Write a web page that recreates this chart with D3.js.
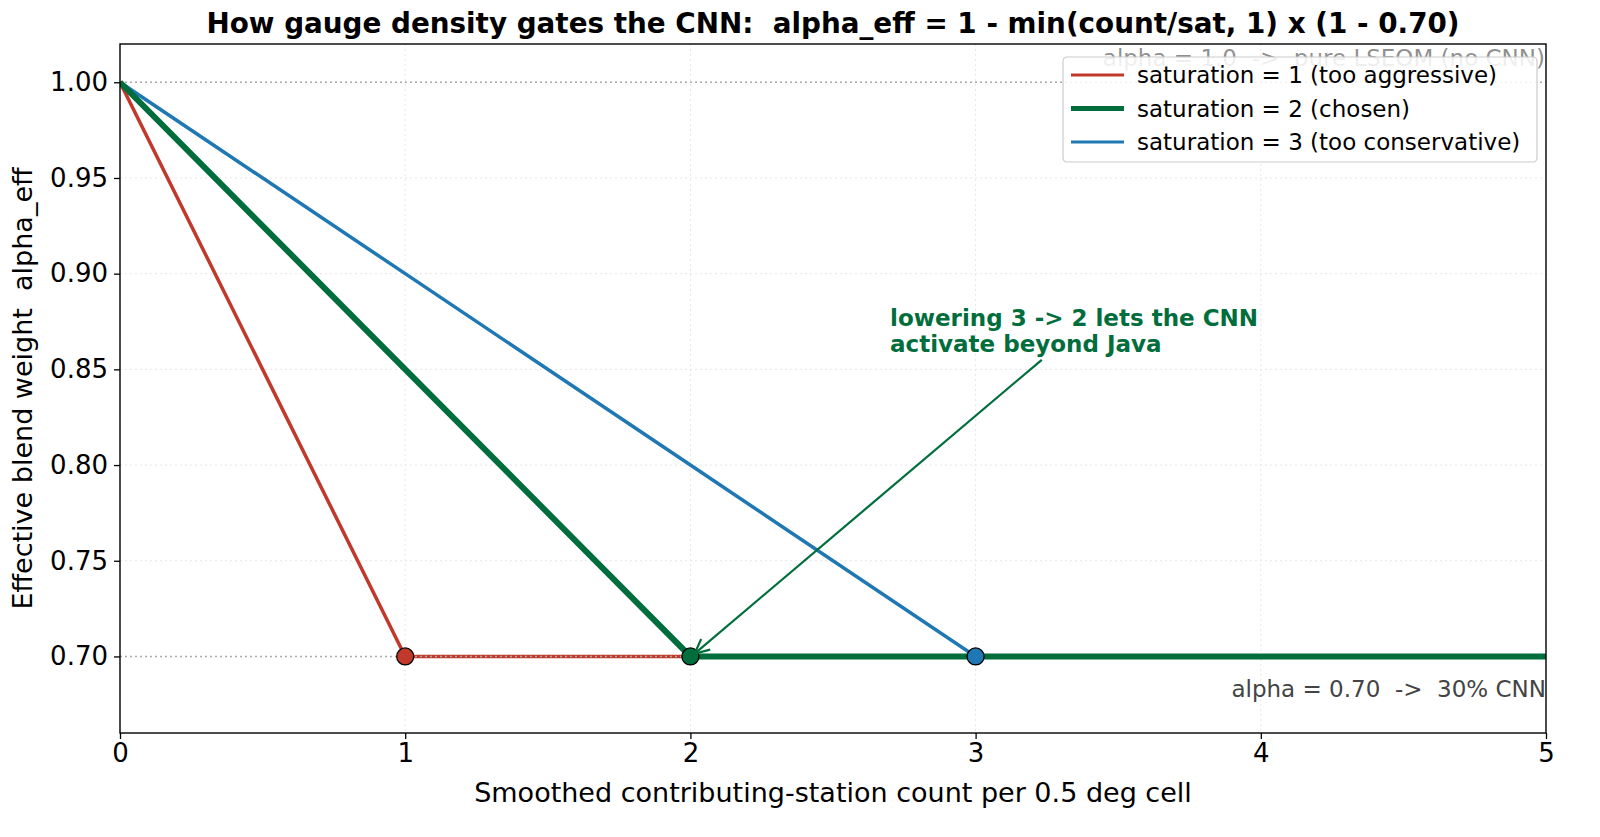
<!DOCTYPE html>
<html>
<head>
<meta charset="utf-8">
<script src="https://cdn.jsdelivr.net/npm/d3@7"></script>
<style>
  body { margin:0; background:#fff; }
  svg { font-family: "DejaVu Sans", sans-serif; }
  svg text { white-space: pre; }
</style>
</head>
<body>
<div id="chart"></div>
<script>
// station count on x, alpha_eff per saturation value
var countX = [0, 1, 2, 3, 4, 5];
var sat1 = [1.00, 0.70, 0.70, 0.70, 0.70, 0.70];
var sat2 = [1.00, 0.85, 0.70, 0.70, 0.70, 0.70];
var sat3 = [1.00, 0.90, 0.80, 0.70, 0.70, 0.70];
var satPoints = [1, 2, 3];
var seriesNames = ["saturation = 1 (too aggressive)", "saturation = 2 (chosen)", "saturation = 3 (too conservative)"];
var seriesColors = ["#c0392b", "#006d3c", "#1f78b4"];
var xTicks = [0, 1, 2, 3, 4, 5];
var yTicks = [0.70, 0.75, 0.80, 0.85, 0.90, 0.95, 1.00];
var alphaFloor = 0.70;

var W = 1600, H = 837;
var margin = {top: 44, right: 54, bottom: 104, left: 120};
var w = W - margin.left - margin.right,
    h = H - margin.top - margin.bottom;

var svg = d3.select("#chart").append("svg")
    .attr("width", W).attr("height", H);
var g = svg.append("g")
    .attr("transform", "translate(" + margin.left + "," + margin.top + ")");

var x = d3.scaleLinear().domain([0, 5]).range([0, w]);
var y = d3.scaleLinear().domain([0.66, 1.02]).range([h, 0]);

// grid
g.selectAll(".gx").data(xTicks).enter().append("line")
  .attr("x1", d => x(d)).attr("x2", d => x(d)).attr("y1", 0).attr("y2", h)
  .style("stroke", "#e6e6e6").style("stroke-width", 1).style("stroke-dasharray", "2,3");
g.selectAll(".gy").data(yTicks).enter().append("line")
  .attr("y1", d => y(d)).attr("y2", d => y(d)).attr("x1", 0).attr("x2", w)
  .style("stroke", "#e6e6e6").style("stroke-width", 1).style("stroke-dasharray", "2,3");

svg.append("defs").append("clipPath").attr("id", "plotclip")
  .append("rect").attr("width", w).attr("height", h);

var plot = g.append("g").attr("clip-path", "url(#plotclip)");

// top note (sits behind legend)
plot.append("text")
  .attr("x", w - 1).attr("y", y(1.0) - 16)
  .attr("text-anchor", "end").style("font-size", "23px").style("fill", "#444").style("fill-opacity", 0.6)
  .text("alpha = 1.0  ->  pure LSEOM (no CNN)");

var line = d3.line().x((d, i) => x(countX[i])).y(d => y(d));
var allSeries = [sat1, sat2, sat3];
var widths = [3.5, 6, 3.5];

// red and blue first, green on top
[0, 2].forEach(function(k) {
  plot.append("path").datum(allSeries[k]).attr("d", line)
    .style("fill", "none").style("stroke", seriesColors[k]).style("stroke-width", widths[k]);
});

// reference lines
[1.0, alphaFloor].forEach(function(v) {
  plot.append("line").attr("x1", 0).attr("x2", w).attr("y1", y(v)).attr("y2", y(v))
    .style("stroke", "#aaaaaa").style("stroke-width", 1.6).style("stroke-dasharray", "2,3");
});

plot.append("path").datum(sat2).attr("d", line)
  .style("fill", "none").style("stroke", seriesColors[1]).style("stroke-width", widths[1]);

// markers at saturation points
g.selectAll(".mk").data(satPoints).enter().append("circle")
  .attr("cx", d => x(d)).attr("cy", y(alphaFloor)).attr("r", 8.5)
  .style("fill", (d, i) => seriesColors[i]).style("stroke", "#000").style("stroke-width", 1.3);

// bottom note
g.append("text")
  .attr("x", w).attr("y", y(alphaFloor) + 41)
  .attr("text-anchor", "end").style("font-size", "23px").style("fill", "#444")
  .text("alpha = 0.70  ->  30% CNN");

// annotation
var ann = g.append("text").style("font-size", "23px").style("font-weight", "bold")
  .style("fill", seriesColors[1]);
ann.append("tspan").attr("x", x(2.7)).attr("y", y(0.8726)).text("lowering 3 -> 2 lets the CNN");
ann.append("tspan").attr("x", x(2.7)).attr("y", y(0.859)).text("activate beyond Java");

var ax0 = x(3.232), ay0 = y(0.855), ax1 = x(2.015), ay1 = y(0.7015);
g.append("line").attr("x1", ax0).attr("y1", ay0).attr("x2", ax1).attr("y2", ay1)
  .style("stroke", seriesColors[1]).style("stroke-width", 2.2);
var ang = Math.atan2(ay1 - ay0, ax1 - ax0);
var hl = 16, ha = 0.45;
g.append("path")
  .attr("d", "M" + (ax1 - hl * Math.cos(ang - ha)) + "," + (ay1 - hl * Math.sin(ang - ha)) +
        "L" + ax1 + "," + ay1 +
        "L" + (ax1 - hl * Math.cos(ang + ha)) + "," + (ay1 - hl * Math.sin(ang + ha)))
  .style("fill", "none").style("stroke", seriesColors[1]).style("stroke-width", 2.2);

// axes
var xAxis = g.append("g").attr("transform", "translate(0," + h + ")")
  .call(d3.axisBottom(x).tickValues(xTicks).tickFormat(d3.format("d")).tickSize(6).tickPadding(5));
var yAxis = g.append("g")
  .call(d3.axisLeft(y).tickValues(yTicks).tickFormat(d3.format(".2f")).tickSize(6).tickPadding(6));
[xAxis, yAxis].forEach(function(a) {
  a.selectAll("text").style("font-size", "26px").style("fill", "#000").style("font-family", "DejaVu Sans");
  a.selectAll("line").style("stroke", "#000").style("stroke-width", 1.3);
  a.select(".domain").remove();
});
g.append("rect").attr("width", w).attr("height", h)
  .style("fill", "none").style("stroke", "#000").style("stroke-width", 1.4);

// legend
var lg = g.append("g").attr("transform", "translate(" + (1063 - margin.left) + "," + (57 - margin.top) + ")");
lg.append("rect").attr("width", 474).attr("height", 105).attr("rx", 4)
  .style("fill", "#fff").style("fill-opacity", 0.85).style("stroke", "#cccccc").style("stroke-width", 1.2);
seriesNames.forEach(function(name, i) {
  var yy = 18 + i * 33.5;
  lg.append("line").attr("x1", 8).attr("x2", 61).attr("y1", yy).attr("y2", yy)
    .style("stroke", seriesColors[i]).style("stroke-width", i == 1 ? 5 : 3);
  lg.append("text").attr("x", 74).attr("y", yy + 8).style("font-size", "23px").text(name);
});

// titles
svg.append("text").attr("x", margin.left + w / 2).attr("y", 33).attr("text-anchor", "middle")
  .style("font-size", "27.8px").style("font-weight", "bold")
  .text("How gauge density gates the CNN:  alpha_eff = 1 - min(count/sat, 1) x (1 - 0.70)");
svg.append("text").attr("x", margin.left + w / 2).attr("y", 802).attr("text-anchor", "middle")
  .style("font-size", "27px").text("Smoothed contributing-station count per 0.5 deg cell");
svg.append("text").attr("transform", "translate(32," + (margin.top + h / 2) + ") rotate(-90)")
  .attr("text-anchor", "middle").style("font-size", "27px")
  .text("Effective blend weight  alpha_eff");
</script>
</body>
</html>
